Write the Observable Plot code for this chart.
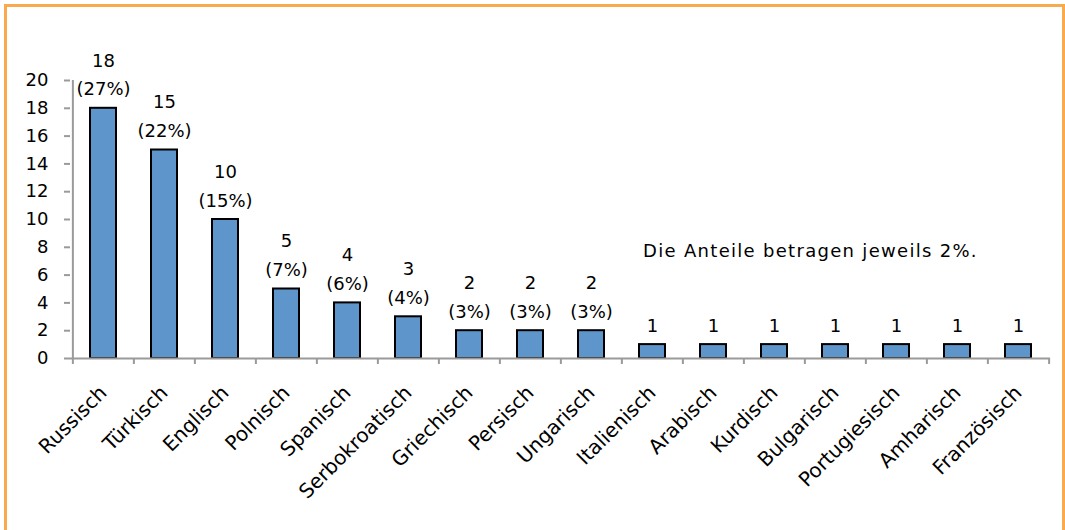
<!DOCTYPE html>
<html><head><meta charset="utf-8">
<script src="https://cdn.jsdelivr.net/npm/d3@7"></script>
<script src="https://cdn.jsdelivr.net/npm/@observablehq/plot@0.6"></script>
<style>
html,body{margin:0;padding:0;background:#fff;overflow:hidden}
#wrap{position:relative;width:1065px;height:530px;overflow:hidden}
#frame{position:absolute;left:4px;top:4px;width:1061px;height:560px;border:3px solid #F9AA4C;box-sizing:border-box;pointer-events:none}
#wrap svg{position:absolute;left:0;top:0}
</style></head><body><div id="wrap"><div id="frame"></div></div>
<script>
const categories = ["Russisch","Türkisch","Englisch","Polnisch","Spanisch","Serbokroatisch","Griechisch","Persisch","Ungarisch","Italienisch","Arabisch","Kurdisch","Bulgarisch","Portugiesisch","Amharisch","Französisch"];
const counts = [18,15,10,5,4,3,2,2,2,1,1,1,1,1,1,1];
const shares = ["27%","22%","15%","7%","6%","4%","3%","3%","3%",null,null,null,null,null,null,null];
const yTicks = [0,2,4,6,8,10,12,14,16,18,20];
const note = "Die Anteile betragen jeweils 2%.";

const data = categories.map((c,i)=>({lang:c, count:counts[i], share:shares[i]}));

const W = 1065, H = 530, mL = 70, mR = 15, mT = 80, mB = 172;
const step = (W - mL - mR) / categories.length;
const axisGray = "#9a9a9a";

const chart = Plot.plot({
  width: W, height: H,
  marginLeft: mL, marginRight: mR, marginTop: mT, marginBottom: mB,
  style: {fontFamily: "'DejaVu Sans', Verdana, sans-serif", fontSize: "18px", color: "#000", background: "transparent"},
  x: {type: "band", domain: categories, paddingInner: 0.575, paddingOuter: 0.2875, axis: null},
  y: {domain: [0, 20], label: null, axis: null},
  marks: [
    Plot.axisY({ticks: yTicks, tickSize: 6, tickPadding: 16, stroke: axisGray, strokeWidth: 2, fontSize: 18, label: null, fill: "#000"}),
    Plot.barY(data, {x: "lang", y: "count", fill: "#5E95CA", stroke: "#000", strokeWidth: 2}),
    Plot.ruleY([0], {stroke: axisGray, strokeWidth: 2}),
    Plot.ruleX([categories[0]], {x: d => d, dx: -step/2, y1: 0, y2: 20, stroke: axisGray, strokeWidth: 2}),
    Plot.ruleX(categories, {x: d => d, dx: -step/2, y1: 0, y2: 0, insetBottom: -6, stroke: axisGray, strokeWidth: 2}),
    Plot.ruleX([categories[categories.length-1]], {x: d => d, dx: step/2, y1: 0, y2: 0, insetBottom: -6, stroke: axisGray, strokeWidth: 2}),
    Plot.text(data, {x: "lang", y: "count", text: d => d.share ? `${d.count}\n(${d.share})` : `${d.count}`, lineAnchor: "bottom", lineHeight: 1.6, dy: -13, fontSize: 18, fill: "#000"}),
    Plot.text(categories, {x: d => d, y: () => 0, rotate: -45, textAnchor: "end", lineAnchor: "middle", dy: 31, dx: 0, fontSize: 20, fill: "#000"}),
    Plot.text([note], {x: () => categories[12], y: () => 7.3, text: d => d, textAnchor: "middle", lineAnchor: "bottom", dx: -25, fontSize: 18, fill: "#000"})
  ]
});
document.getElementById("wrap").insertBefore(chart, document.getElementById("frame"));
chart.querySelectorAll("text").forEach(t => { if (t.textContent === note) t.style.letterSpacing = "1.3px"; });
</script></body></html>
